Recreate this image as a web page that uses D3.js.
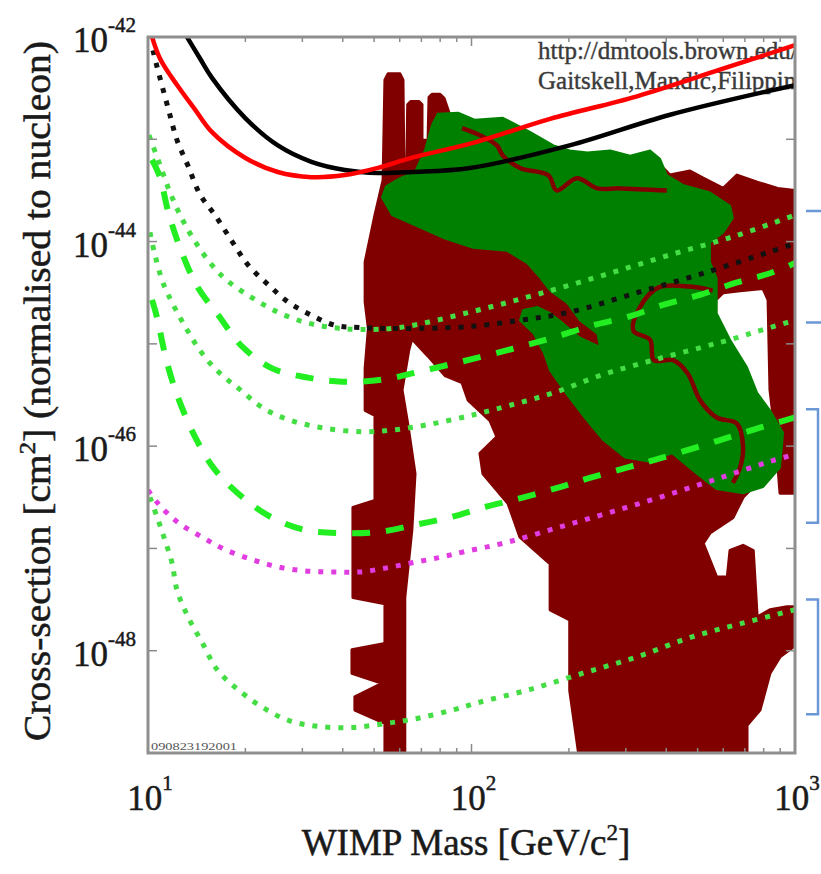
<!DOCTYPE html>
<html>
<head>
<meta charset="utf-8">
<script src="https://cdn.jsdelivr.net/npm/d3@7"></script>
<style>
  body { margin: 0; background: #fff; }
  svg text { font-family: "Liberation Serif", "Times New Roman", serif; }
</style>
</head>
<body>
<svg id="chart" width="821" height="874"></svg>
<script>
// axis ranges
const massDomain = [10, 1000];
const sigmaDomain = [1e-49, 1e-42];
const xMajorTicks = [10, 100, 1000];
const xMinorTicks = [20, 30, 40, 50, 60, 70, 80, 90, 200, 300, 400, 500, 600, 700, 800, 900];
const yMajorTicks = [-43, -44, -45, -46, -47, -48];
const xLabelExps = [1, 2, 3];
const yLabelExps = [-42, -44, -46, -48];

// all points are [WIMP mass in GeV, log10 of cross-section in cm^2]
const redSolid = [[10.14,-41.93],[10.89,-42.21],[12.3,-42.47],[13.98,-42.71],[15.77,-42.93],[19.95,-43.18],[25.2,-43.32],[32.0,-43.37],[40.6,-43.35],[51.4,-43.28],[65.5,-43.18],[102.6,-43.03],[175,-42.80],[325,-42.58],[586,-42.32],[1000,-42.08]];
const blackSolid = [[12.8,-41.93],[14.48,-42.21],[15.77,-42.40],[19.95,-42.79],[25.2,-43.06],[32.0,-43.22],[40.6,-43.30],[51.4,-43.33],[65.5,-43.32],[98.9,-43.28],[201,-43.06],[411,-42.76],[1000,-42.47]];
const blackDotted = [[10.36,-42.13],[10.66,-42.29],[11.55,-42.70],[12.3,-43.01],[13.3,-43.26],[14.48,-43.54],[16.1,-43.74],[18.2,-44.00],[20.4,-44.23],[23.5,-44.42],[27.1,-44.59],[32.0,-44.72],[38.0,-44.82],[44.9,-44.84],[60.1,-44.85],[98.9,-44.83],[141,-44.77],[201,-44.69],[325,-44.50],[520,-44.31],[837,-44.10],[1000,-44.02]];
const greenDotted1 = [[10.07,-42.96],[10.89,-43.25],[11.70,-43.52],[12.7,-43.77],[13.98,-44.00],[15.77,-44.23],[17.7,-44.39],[21.0,-44.55],[25.2,-44.69],[30.6,-44.79],[37.1,-44.84],[44.9,-44.86],[60.1,-44.84],[98.9,-44.69],[158,-44.52],[255,-44.33],[411,-44.13],[662,-43.94],[1000,-43.74]];
const greenDashed1 = [[10.29,-43.20],[10.89,-43.37],[11.55,-43.71],[12.56,-44.06],[14.2,-44.44],[16.5,-44.72],[19.6,-45.03],[24.2,-45.24],[31.2,-45.33],[39.8,-45.37],[53.0,-45.35],[69.3,-45.27],[106.2,-45.13],[141,-45.03],[183,-44.93],[236,-44.82],[302,-44.74],[391,-44.62],[508,-44.52],[662,-44.40],[837,-44.31],[1000,-44.21]];
const greenDotted2 = [[10.14,-43.91],[10.51,-44.13],[11.06,-44.38],[11.55,-44.52],[12.3,-44.69],[13.3,-44.88],[14.3,-45.04],[15.77,-45.21],[17.3,-45.33],[18.97,-45.43],[22.5,-45.62],[27.1,-45.74],[34.5,-45.82],[45.9,-45.86],[58.1,-45.84],[73.3,-45.79],[93.5,-45.72],[108.6,-45.67],[131.7,-45.60],[179,-45.48],[255,-45.30],[364,-45.16],[520,-45.03],[662,-44.94],[797,-44.86],[1000,-44.77]];
const greenDashed2 = [[10.29,-44.57],[10.66,-44.74],[11.4,-45.16],[12.3,-45.50],[13.98,-45.91],[16.1,-46.23],[19.6,-46.50],[24.2,-46.70],[30.6,-46.82],[39.8,-46.85],[51.4,-46.84],[66.9,-46.77],[87.3,-46.69],[108.6,-46.60],[141,-46.51],[183,-46.41],[232,-46.31],[302,-46.21],[382,-46.12],[499,-46.01],[630,-45.91],[797,-45.81],[1000,-45.72]];
const magentaDotted = [[10,-46.43],[10.74,-46.56],[12.3,-46.74],[14.7,-46.89],[17.3,-47.01],[21.0,-47.11],[25.2,-47.18],[30.6,-47.22],[37.1,-47.23],[44.9,-47.23],[54.7,-47.19],[65.5,-47.14],[79.2,-47.09],[95.6,-47.03],[128.8,-46.94],[187.8,-46.79],[273,-46.64],[401,-46.48],[586,-46.31],[837,-46.15],[1000,-46.08]];
const greenDotted3 = [[10.14,-46.50],[10.74,-46.72],[11.28,-46.92],[11.86,-47.14],[12.3,-47.41],[13.3,-47.67],[14.7,-47.92],[16.4,-48.19],[18.97,-48.38],[22.5,-48.55],[27.1,-48.68],[33.5,-48.74],[42.7,-48.75],[54.7,-48.71],[68.4,-48.66],[87.3,-48.58],[104,-48.51],[151,-48.38],[221,-48.22],[325,-48.06],[475,-47.87],[689,-47.73],[1000,-47.60]];

// theory regions
const maroonRegion = [[54.0,-49.1],[54.0,-48.71],[43.6,-48.58],[43.6,-48.45],[52.9,-48.32],[42.7,-48.22],[42.7,-47.99],[54.0,-47.93],[54.0,-47.54],[43.0,-47.48],[43.0,-46.60],[50.3,-46.53],[50.3,-45.70],[46.9,-45.65],[46.9,-45.24],[48.0,-44.85],[46.9,-44.59],[46.9,-44.20],[50.3,-43.74],[53.3,-43.40],[54.0,-42.42],[55.2,-42.36],[60.1,-42.36],[61.4,-42.42],[61.8,-43.25],[63.1,-43.25],[63.5,-42.66],[65.0,-42.63],[68.8,-42.63],[70.3,-42.66],[70.3,-43.01],[73.4,-43.01],[73.9,-42.59],[75.5,-42.56],[79.9,-42.56],[82.3,-42.60],[85.8,-42.77],[93.5,-42.86],[106.2,-42.93],[187.8,-43.11],[382.4,-43.25],[410.7,-43.35],[473.5,-43.31],[520.2,-43.38],[599.9,-43.48],[661.5,-43.35],[764,-43.42],[884,-43.48],[1050,-43.51],[1050,-46.46],[898.7,-46.46],[872.5,-45.94],[836.9,-45.45],[825.5,-44.57],[796.3,-44.46],[676.1,-44.48],[599.9,-44.50],[568.8,-44.57],[568.8,-44.77],[608.6,-44.96],[676.1,-45.26],[726.5,-45.50],[779.5,-45.75],[807.5,-46.14],[753,-46.38],[691.2,-46.50],[642.6,-46.70],[545.9,-46.85],[520.2,-46.95],[572.6,-47.28],[617.5,-47.28],[629.7,-47.02],[691.2,-46.97],[743,-47.02],[764,-47.67],[836.9,-47.60],[945,-47.57],[1050,-47.57],[1050,-47.90],[898.7,-48.06],[836.9,-48.22],[779.5,-48.58],[710.6,-48.73],[710.6,-49.1],[216.5,-49.1],[201.2,-48.39],[201.2,-47.70],[175.0,-47.60],[175.0,-47.15],[141.2,-46.89],[129.7,-46.56],[108.5,-46.27],[106.2,-46.07],[119.8,-45.91],[114.1,-45.75],[97.6,-45.55],[93.5,-45.38],[82.8,-45.31],[73.4,-45.12],[65.4,-44.95],[64.0,-45.06],[61.0,-45.45],[63.5,-45.78],[66.9,-46.27],[65.4,-46.82],[62.2,-47.48],[62.2,-49.1]];
const greenRegion = [[52.9,-43.57],[54.4,-43.46],[60.1,-43.38],[66.9,-43.32],[71.8,-43.11],[75.5,-42.86],[78.7,-42.75],[90.9,-42.74],[102.6,-42.81],[125.1,-42.79],[152.1,-42.93],[179.2,-43.06],[201.2,-43.11],[228.2,-43.13],[268.4,-43.11],[309.4,-43.16],[356.4,-43.11],[382.4,-43.19],[401.5,-43.35],[452.7,-43.45],[545.9,-43.52],[629.7,-43.65],[642.6,-43.77],[599.9,-43.91],[545.9,-44.01],[545.9,-44.20],[572.6,-44.36],[572.6,-44.59],[572.6,-44.70],[629.7,-44.96],[710.6,-45.23],[764,-45.48],[836.9,-45.65],[918.6,-45.87],[898.7,-46.21],[796.3,-46.40],[691.2,-46.46],[572.6,-46.42],[497.5,-46.27],[416.8,-46.07],[352.2,-46.15],[298.2,-46.11],[255.4,-45.94],[225,-45.73],[197.7,-45.50],[175.0,-45.26],[167.6,-45.09],[155.7,-44.90],[141.2,-44.77],[144.5,-44.67],[160.2,-44.64],[175.0,-44.70],[192.0,-44.80],[216.5,-44.94],[249.6,-45.03],[245.0,-44.90],[216.5,-44.77],[197.7,-44.60],[175.0,-44.48],[162.8,-44.35],[148.7,-44.21],[128.8,-44.09],[101.2,-44.06],[82.8,-43.97],[70.3,-43.87],[56.8,-43.74]];
const contourTop = [[93.5,-42.89],[106.2,-42.96],[119.8,-43.06],[125.1,-43.16],[141.2,-43.28],[172.5,-43.35],[183.5,-43.50],[211.8,-43.38],[245.0,-43.48],[287.7,-43.48],[401.5,-43.50]];
const contourRight = [[556.8,-44.48],[473.5,-44.44],[377.6,-44.45],[331.8,-44.64],[316.5,-44.87],[356.4,-44.96],[366.3,-45.16],[419.9,-45.16],[465.9,-45.29],[508.5,-45.55],[572.6,-45.72],[661.5,-45.78],[691.2,-46.01],[676.1,-46.21],[642.6,-46.36]];

// blue side brackets, log10 cross-section ranges
const bracketRanges = [[-43.70, -44.79], [-45.64, -46.75], [-47.50, -48.62]];

const svg = d3.select('#chart');
const plot = { left: 148, top: 37, right: 795, bottom: 753 };

const x = d3.scaleLog().domain(massDomain).range([plot.left, plot.right]);
const y = d3.scaleLog().domain(sigmaDomain).range([plot.bottom, plot.top]);
const px = (d) => x(d[0]);
const py = (d) => y(Math.pow(10, d[1]));

svg.append('defs').append('clipPath').attr('id', 'plot-clip')
  .append('rect')
  .attr('x', plot.left).attr('y', plot.top)
  .attr('width', plot.right - plot.left).attr('height', plot.bottom - plot.top);

const g = svg.append('g').attr('clip-path', 'url(#plot-clip)');

// regions
const region = d3.line().x(px).y(py).curve(d3.curveLinearClosed);
g.append('path').datum(maroonRegion).attr('d', region)
  .attr('fill', '#800000').attr('stroke', '#800000')
  .attr('stroke-width', 3).attr('stroke-linejoin', 'round');
g.append('path').datum(greenRegion).attr('d', region)
  .attr('fill', '#008000').attr('stroke', '#008000')
  .attr('stroke-width', 2).attr('stroke-linejoin', 'round');

const smooth = d3.line().x(px).y(py).curve(d3.curveCatmullRom);
[contourTop, contourRight].forEach((c) => {
  g.append('path').datum(c).attr('d', smooth)
    .attr('fill', 'none').attr('stroke', '#800000')
    .attr('stroke-width', 4.5).attr('stroke-linejoin', 'round');
});

// credit text
const credit = g.append('g').attr('font-size', 25).attr('fill', '#3a3a3a')
  .attr('stroke', '#3a3a3a').attr('stroke-width', 0.4);
credit.append('text').attr('x', 538).attr('y', 59).text('http://dmtools.brown.edu/');
credit.append('text').attr('x', 538).attr('y', 89).text('Gaitskell,Mandic,Filippini');
g.append('text').attr('x', 151).attr('y', 750)
  .attr('font-size', 10).attr('fill', '#555')
  .attr('textLength', 86).attr('lengthAdjust', 'spacingAndGlyphs')
  .text('090823192001');

// limit curves
const dots = { dash: '5 8', width: 5, cap: 'butt' };
const dashes = { dash: '18 16', width: 6, cap: 'butt' };
const solid = { dash: null, width: 4.5, cap: 'round' };
const curveStyles = [
  { data: greenDotted3, color: '#44dd44', ...dots },
  { data: magentaDotted, color: '#e03ce0', ...dots },
  { data: greenDashed2, color: '#22ee22', ...dashes },
  { data: greenDotted2, color: '#44dd44', ...dots },
  { data: greenDashed1, color: '#22ee22', ...dashes },
  { data: blackDotted, color: '#111', ...dots },
  { data: greenDotted1, color: '#44dd44', ...dots },
  { data: blackSolid, color: '#000', ...solid },
  { data: redSolid, color: '#ff0000', ...solid },
];
curveStyles.forEach((s) => {
  g.append('path').datum(s.data).attr('d', smooth)
    .attr('fill', 'none').attr('stroke', s.color)
    .attr('stroke-width', s.width).attr('stroke-linecap', s.cap)
    .attr('stroke-dasharray', s.dash);
});

// ticks
const tickColor = '#8a8a8a';
const ticks = svg.append('g').attr('stroke', tickColor).attr('stroke-width', 1.5);
xMajorTicks.concat(xMinorTicks).forEach((v) => {
  const len = xMajorTicks.includes(v) ? 9 : 5;
  ticks.append('line').attr('x1', x(v)).attr('x2', x(v)).attr('y1', plot.bottom).attr('y2', plot.bottom - len);
  ticks.append('line').attr('x1', x(v)).attr('x2', x(v)).attr('y1', plot.top).attr('y2', plot.top + len);
});
yMajorTicks.forEach((e) => {
  const yy = y(Math.pow(10, e));
  ticks.append('line').attr('x1', plot.left).attr('x2', plot.left + 9).attr('y1', yy).attr('y2', yy);
  ticks.append('line').attr('x1', plot.right).attr('x2', plot.right - 9).attr('y1', yy).attr('y2', yy);
});

// frame
svg.append('rect')
  .attr('x', plot.left).attr('y', plot.top)
  .attr('width', plot.right - plot.left).attr('height', plot.bottom - plot.top)
  .attr('fill', 'none').attr('stroke', '#8f8f8f').attr('stroke-width', 3);

// text style shared by labels
const labelStyle = (sel) => sel.attr('fill', '#1a1a1a').attr('stroke', '#1a1a1a').attr('stroke-width', 0.5);

// tick labels
xLabelExps.forEach((e) => {
  const t = svg.append('text')
    .attr('x', x(Math.pow(10, e)) + 2).attr('y', 810)
    .attr('text-anchor', 'middle').attr('font-size', 35).call(labelStyle);
  t.append('tspan').text('10');
  t.append('tspan').attr('dy', -20).attr('font-size', 21).text(e);
});
yLabelExps.forEach((e) => {
  const t = svg.append('text')
    .attr('x', 136).attr('y', y(Math.pow(10, e)) + 15)
    .attr('text-anchor', 'end').attr('font-size', 35).call(labelStyle);
  t.append('tspan').text('10');
  t.append('tspan').attr('dy', -20).attr('font-size', 21).text(e);
});

// axis titles
const xTitle = svg.append('text')
  .attr('x', 466).attr('y', 855)
  .attr('text-anchor', 'middle').attr('font-size', 37).call(labelStyle);
xTitle.append('tspan').text('WIMP Mass [GeV/c');
xTitle.append('tspan').attr('dy', -15).attr('font-size', 23).text('2');
xTitle.append('tspan').attr('dy', 15).text(']');

const yTitle = svg.append('text')
  .attr('transform', 'translate(50,391) rotate(-90)')
  .attr('text-anchor', 'middle').attr('font-size', 37)
  .attr('textLength', 700).attr('lengthAdjust', 'spacingAndGlyphs')
  .call(labelStyle);
yTitle.append('tspan').text('Cross-section [cm');
yTitle.append('tspan').attr('dy', -15).attr('font-size', 23).text('2');
yTitle.append('tspan').attr('dy', 15).text('] (normalised to nucleon)');

// side brackets
const brackets = svg.append('g').attr('stroke', '#6b97d6').attr('stroke-width', 2.5).attr('fill', 'none');
bracketRanges.forEach((r, i) => {
  const vx = i === 0 ? 823 : 818;
  const y1 = y(Math.pow(10, r[0]));
  const y2 = y(Math.pow(10, r[1]));
  brackets.append('path').attr('d', `M806,${y1}H${vx}V${y2}H806`);
});
</script>
</body>
</html>
